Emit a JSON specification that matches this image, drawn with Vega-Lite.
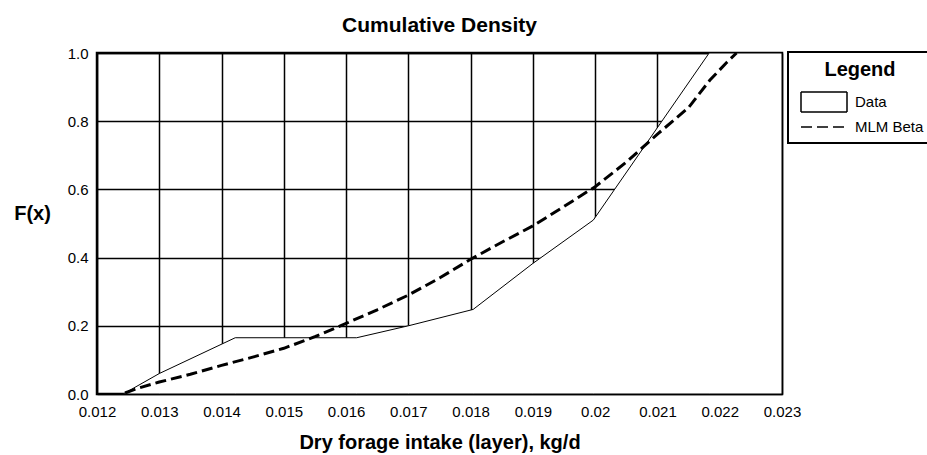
{
  "$schema": "https://vega.github.io/schema/vega-lite/v6.json",
  "width": 685,
  "height": 341,
  "autosize": {"type": "none"},
  "padding": {"left": 97, "top": 53, "right": 145, "bottom": 61},
  "background": "white",
  "config": {
    "font": "Liberation Sans",
    "view": {"stroke": "black", "strokeWidth": 2.5}
  },
  "title": {
    "text": "Cumulative Density",
    "fontSize": 21,
    "fontWeight": "bold",
    "font": "Liberation Sans",
    "color": "black",
    "anchor": "middle",
    "frame": "group",
    "offset": 10
  },
  "datasets": {
    "data": [
      {"x": 0.012, "F": 0, "series": "Data"},
      {"x": 0.01242, "F": 0, "series": "Data"},
      {"x": 0.013, "F": 0.06, "series": "Data"},
      {"x": 0.01422, "F": 0.165, "series": "Data"},
      {"x": 0.01617, "F": 0.165, "series": "Data"},
      {"x": 0.017, "F": 0.2, "series": "Data"},
      {"x": 0.01804, "F": 0.248, "series": "Data"},
      {"x": 0.019, "F": 0.383, "series": "Data"},
      {"x": 0.01997, "F": 0.51, "series": "Data"},
      {"x": 0.02183, "F": 1.0, "series": "Data"},
      {"x": 0.023, "F": 1.0, "series": "Data"}
    ],
    "beta": [
      {"x": 0.01245, "F": 0.003, "series": "MLM Beta"},
      {"x": 0.01266, "F": 0.017, "series": "MLM Beta"},
      {"x": 0.013, "F": 0.035, "series": "MLM Beta"},
      {"x": 0.0135, "F": 0.058, "series": "MLM Beta"},
      {"x": 0.014, "F": 0.084, "series": "MLM Beta"},
      {"x": 0.0145, "F": 0.108, "series": "MLM Beta"},
      {"x": 0.015, "F": 0.134, "series": "MLM Beta"},
      {"x": 0.0155, "F": 0.168, "series": "MLM Beta"},
      {"x": 0.016, "F": 0.207, "series": "MLM Beta"},
      {"x": 0.0165, "F": 0.247, "series": "MLM Beta"},
      {"x": 0.017, "F": 0.29, "series": "MLM Beta"},
      {"x": 0.0175, "F": 0.34, "series": "MLM Beta"},
      {"x": 0.018, "F": 0.395, "series": "MLM Beta"},
      {"x": 0.0185, "F": 0.445, "series": "MLM Beta"},
      {"x": 0.019, "F": 0.493, "series": "MLM Beta"},
      {"x": 0.0195, "F": 0.55, "series": "MLM Beta"},
      {"x": 0.02, "F": 0.608, "series": "MLM Beta"},
      {"x": 0.0205, "F": 0.68, "series": "MLM Beta"},
      {"x": 0.021, "F": 0.762, "series": "MLM Beta"},
      {"x": 0.0215, "F": 0.84, "series": "MLM Beta"},
      {"x": 0.02184, "F": 0.92, "series": "MLM Beta"},
      {"x": 0.0221, "F": 0.97, "series": "MLM Beta"},
      {"x": 0.02227, "F": 1.0, "series": "MLM Beta"}
    ]
  },
  "encoding": {
    "x": {
      "field": "x",
      "type": "quantitative",
      "scale": {"domain": [0.012, 0.023], "nice": false, "zero": false},
      "axis": {
        "values": [0.012, 0.013, 0.014, 0.015, 0.016, 0.017, 0.018, 0.019, 0.02, 0.021, 0.022, 0.023],
        "format": ".3~f",
        "labelFontSize": 15,
        "labelColor": "black",
        "labelFlush": false,
        "labelOverlap": false,
        "ticks": false,
        "labelPadding": 10,
        "domain": false,
        "grid": true,
        "gridColor": "black",
        "gridWidth": 1.5,
        "gridOpacity": 1,
        "title": "Dry forage intake (layer), kg/d",
        "titleFontSize": 20,
        "titleFontWeight": "bold",
        "titleColor": "black",
        "titleX": 342.5,
        "titleY": 54,
        "titleAlign": "center",
        "titleBaseline": "alphabetic"
      }
    },
    "y": {
      "field": "F",
      "type": "quantitative",
      "scale": {"domain": [0, 1], "nice": false},
      "axis": {
        "values": [0, 0.2, 0.4, 0.6, 0.8, 1.0],
        "format": ".1f",
        "labelFontSize": 15,
        "labelColor": "black",
        "ticks": false,
        "labelPadding": 9,
        "domain": false,
        "grid": true,
        "gridColor": "black",
        "gridWidth": 1.5,
        "gridOpacity": 1,
        "title": "F(x)",
        "titleAngle": 0,
        "titleFontSize": 20,
        "titleFontWeight": "bold",
        "titleColor": "black",
        "titleX": -65,
        "titleY": 160,
        "titleAlign": "center",
        "titleBaseline": "middle"
      }
    },
    "strokeDash": {
      "field": "series",
      "type": "nominal",
      "scale": {"domain": ["Data", "MLM Beta"], "range": [[1, 0], [11, 5]]},
      "legend": {
        "orient": "none",
        "legendX": 691,
        "legendY": -1,
        "title": "Legend",
        "titleFontSize": 20,
        "titleFontWeight": "bold",
        "titleColor": "black",
        "titleAnchor": "middle",
        "titlePadding": 11,
        "labelFontSize": 15,
        "labelColor": "black",
        "strokeColor": "black",
        "padding": 8,
        "symbolSize": 400,
        "symbolType": "M-2.3,-1H2.3V1H-2.3Z",
        "symbolStrokeColor": "black",
        "symbolFillColor": "white",
        "symbolStrokeWidth": 1.5,
        "symbolOffset": 17,
        "labelOffset": 20,
        "rowPadding": 1,
        "encode": {
          "legend": {
            "update": {
              "strokeWidth": {"value": 2}
            }
          },
          "symbols": {
            "update": {
              "shape": {"signal": "datum.label === 'Data' ? 'M-2.3,-1H2.3V1H-2.3Z' : 'M-2.3,0H2.3'"},
              "fill": {"value": "white"},
              "stroke": {"value": "black"}
            }
          }
        }
      }
    }
  },
  "layer": [
    {
      "data": {"name": "data"},
      "mark": {"type": "area", "fill": "white", "stroke": "black", "strokeWidth": 1, "fillOpacity": 1}
    },
    {
      "data": {"name": "beta"},
      "mark": {"type": "line", "stroke": "black", "strokeWidth": 3}
    }
  ]
}
